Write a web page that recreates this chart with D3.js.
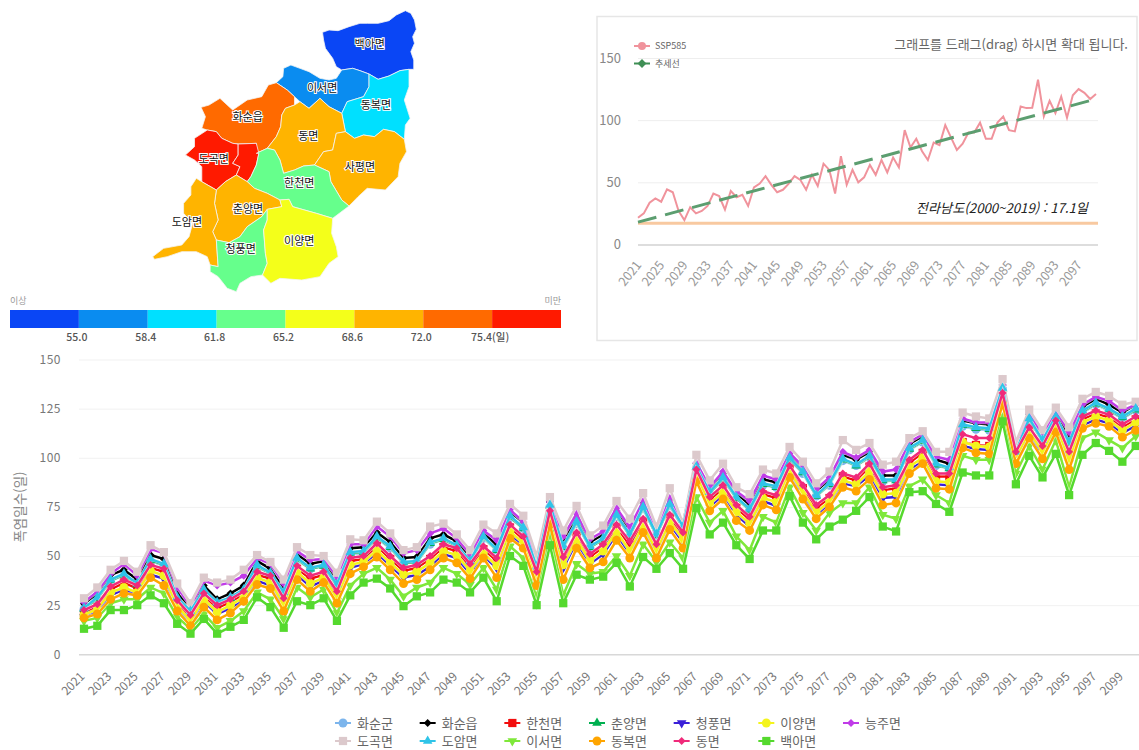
<!DOCTYPE html>
<html lang="ko">
<head>
<meta charset="utf-8">
<title>화순군 폭염일수</title>
<script src="https://cdn.jsdelivr.net/npm/d3@7/dist/d3.min.js"></script>
<style>
  html, body { margin: 0; padding: 0; background: #fff; overflow: hidden; }
  svg { display: block; font-family: "Noto Sans CJK KR", "Noto Sans", sans-serif; }
</style>
</head>
<body>
<svg id="chart" width="1139" height="750"></svg>
<script>
// 연도
const years = d3.range(2021, 2101)

// 읍면별 폭염일수
const hwasunGun = [
  23,28,37.5,40,35.5,47.5,45,28.5,21.5,32,
  26,28.5,32.5,44.5,41,31,48,43.5,45,34.5,
  51,51.5,59,54,46.5,47,56,58.5,55,47,
  59,53,69.5,64,44,75,54,66.5,54.5,58.5,
  70,60.5,74,60.5,75.5,64,95,82,89,79.5,
  73.5,86,85,99,92,80.5,86,98.5,96,100,
  88,88.5,104,108,96,94.5,116,114.5,114,135,
  102.5,119,108.5,120,107,123,127,124,120,124]
const hwasunEup = [
  25.7,31,40.5,43,38,50.5,48.5,31,24,35,
  28,31,35,47.5,43.5,33.5,51,46,47.5,37,
  54,54.5,62,57,49,49.5,59,61,57.5,49.5,
  62,55.5,72.5,67,46,77.5,57,69.5,57,61,
  73,63,77,63,78.5,67,97,84.5,92,82,
  76,89,87.5,102,95,83,89,101.5,99,103,
  91,91,107,111,99,97,119,117.5,117,137,
  105,122,111,123,110,126,130,127,123,127]
const hancheon = [
  21,24,33,36.5,33.5,44,42,26,18.5,29.5,
  23.5,26.5,30.5,40.5,38.5,27,43.5,38.5,40.5,30.5,
  47.5,48.5,55,48.5,42.5,44,48.5,54.5,52.5,44.5,
  53.5,47.5,64.5,58.5,40,71,47.5,60.5,49.5,54.5,
  64.5,55.5,67.5,54.5,69.5,60,92.5,78.5,84.5,74.5,
  68.5,81.5,79.5,94.5,84.5,74.5,79.5,90.5,88.5,95.5,
  83.5,84.5,97.5,102.5,90.5,90.5,108,106.5,106,131.5,
  101.5,114,104.5,117.5,101,119.5,122.5,120.5,115.5,119.5]
const chunyang = [
  23,28.5,37.5,40.5,35.5,48,45.5,28.5,21.5,32.5,
  26,28.5,32.5,45,41,31,48.5,43.5,45,35,
  51.5,52,59.5,54.5,46.5,47,56.5,58.5,55,47,
  59.5,53,70,64,44,75.5,54.5,67,54.5,58.5,
  70.5,60.5,74.5,60.5,76,64.5,95,82,89.5,79.5,
  73.5,86.5,85,99.5,92.5,80.5,86.5,99,96,100.5,
  88.5,88.5,104.5,108.5,96.5,94.5,116.5,115,114.5,135,
  102.5,119.5,108.5,120.5,107.5,123.5,127.5,124.5,120.5,124.5]
const cheongpung = [
  19,22,30,33,30,40.5,38.5,23.5,16,27,
  20.5,23.5,27.5,37.5,35,24,40.5,34.5,37.5,27,
  44,46,51.5,45,39,40.5,44.5,51,49,41,
  50,44,61,55,37,67,44,57,46,51,
  61,51,64,51,66,57,89.5,75,81,71,
  65,78,75.5,91.5,81,70.5,76.5,87,85.5,91,
  79.5,80,94,98,86.5,86,106,104.5,104,129,
  99,111.5,101.5,114.5,97.5,116.5,119.5,117.5,112.5,116.5]
const iyang = [
  20,23,31.5,34,31.5,42.5,40,24.5,17,28,
  21.5,25,29,39,36.5,25.5,42,36,39,28.5,
  45.5,47,53,46.5,40.5,42,46.5,52.5,50.5,42.5,
  51.5,45,62.5,56.5,38.5,68.5,45.5,58.5,47.5,52.5,
  62.5,52.5,65.5,52.5,67.5,58.5,91,76.5,82.5,72.5,
  66.5,79.5,77.5,93,82.5,72,78,88.5,86.5,93,
  81.5,82,95.5,100,88,87.5,108,106,105.5,130,
  100,113,103,116,99,118,121,119,114,118]
const neungju = [
  26.5,32,41,46,40,53.5,51.5,34,24.5,37.5,
  35,36.5,40,49,46,36,52.5,48,48.5,39.5,
  56,56,65,60,51.5,53,61.5,64,59,51,
  63,58,73.5,67.5,47,77.5,60,71.5,58.5,62.5,
  74.5,64.5,78,62.5,79.5,65,97.5,85,93,83,
  78,91,89,102.5,95.5,84,90,103,100,104,
  93,94,108,112,100.5,99,120,118,118,137,
  106,122.5,112,124,113,127,131,129,124,127]
const dogok = [
  28.5,34,43,47.5,42,55.5,52,36,26,39,
  36.5,38,43,50.5,47,38,54.5,50.5,50,41.5,
  58.5,58,67.5,61.5,53,54.5,65,66.5,61,53,
  66,61.5,76.5,70.5,50,80,63,75.5,60.5,65.5,
  78,69,82,65,84.5,66.5,101.5,88.5,97,85,
  81.5,94,92,105.5,98,87,93,109,104,107.5,
  96.5,98,110,113.5,103,103,123,121,120,140,
  108,124.5,114,125.5,115.5,130,133.5,131.5,127,128.5]
const doam = [
  23.5,29,38,41,36,48.5,46,29,22,33,
  26.5,29,33,45.5,41.5,31.5,49,44,45.5,35.5,
  52,52.5,60,55,47,47.5,57,59,55.5,47.5,
  60,53.5,70.5,64.5,44.5,76,55,67.5,55,59,
  71,61,75,61,76.5,65,95.5,82.5,90,80,
  74,87,85.5,100,93,81,87,99.5,96.5,101,
  89,89,105,109,97,95,117,115.5,115,135.5,
  103,120,109,121,108,124,128,125,121,125]
const iseo = [
  17,18.5,26,28,28,34,31,19,13,20.5,
  13.5,17,22,31.5,28,18,34,29,33,21,
  35,41,44,38,29.5,34,36.5,44,41,35.5,
  44,33,55,49,29,62,30,46,41,42,
  50,40,56,47,57,49,80,67,73,60,
  53,70,67,85,72,63,72,77,77,85,
  71,69,85.5,89,81,77,101,99,99,121,
  92,106,94,109,85,110,113,109,105,111]
const dongbok = [
  18.5,20.5,28,31,30,39,35,22,14.5,24,
  17.5,21,27,35.5,33.5,22,38,32,36.5,26,
  41,44.5,49.5,43,36,38,43,49,46.5,38.5,
  49,39,59,54,35,66,38,54,44,47,
  58,49,62,49,63.5,54,88,73,79,68,
  63,76,73.5,90,79,69,75,85,83,89,
  76,77,92,97,84.5,84,105,102.5,102,127.5,
  97,110,99.5,113,94,115,117.5,116,110.5,114]
const dongmyeon = [
  22.5,25.5,34.5,38,35,45.5,43.5,27.5,20,31,
  25,28,32,42,40,28.5,45,40,42,32,
  49,50,56.5,50,44,45.5,50,56,54,46,
  55,49,66,60,42,73,49.5,62,51,56,
  66,57.5,69,56,71,62,94,80,86,76,
  70,83,81,96,86,76,81,92,90,97,
  85,86,99,104,92,92,112,110,110,133,
  103,115.5,106,119,103,121,124,122,117,121]
const baega = [
  13,14.5,22.5,22.5,25,30,26,15.5,10.5,18,
  10.5,14,17.5,29,24,13.5,27,25,28.5,17,
  30,36.5,38.5,33.5,24.5,29.5,31.5,38,36.5,31.5,
  39,27,50,45,25,55.5,26,40.5,38,39.5,
  46.5,34.5,49.5,43.5,51.5,43.5,74.5,61,67,55.5,
  48.5,63,63,80.5,67,58.5,65,68.5,73,80,
  65,62.5,82.5,83,76.5,72.5,92.5,91,91,118.5,
  86.5,101,90,102,81,101.5,107.5,103.5,98,106]

const seriesNames = ['화순군','화순읍','한천면','춘양면','청풍면','이양면','능주면','도곡면','도암면','이서면','동복면','동면','백아면']
const seriesValues = [hwasunGun,hwasunEup,hancheon,chunyang,cheongpung,iyang,neungju,dogok,doam,iseo,dongbok,dongmyeon,baega]
const seriesColors = ['#7cb5ec','#000000','#f20d0d','#00b050','#3a1fd8','#f4f41c','#c03be8','#dcc9cc','#2fc4e8','#7fe83a','#ffa500','#f02a7a','#55d92e']
const seriesMarkers = ['circle','diamond','square','triangle','triangleDown','circle','diamond','square','triangle','triangleDown','circle','diamond','square']

// 우측 상단 그래프 (화순군 SSP585, 추세선)
const ssp585 = [
  21.5,25,33.6,37,34.4,44.4,42,27,19.6,30,
  25,27,31,41,39,28,43,38,40,31,
  46,49,55,48,42,44,49,55,52,44,
  56,47,65,60,41,71,48,60,50,54,
  64,56,68,58,70,62,92,78,85,75,
  68,82,80,96,86,76,81,90,90,98,
  85,85,98,103,92,91,111,109.7,110,132.5,
  103,115.6,105.6,119,102,120,125,122,117,121]
const trendYears = [2021, 2100]
const trendValues = [18, 117]
const jeonnamAvg = 17.1

// 지도 범례
const legendBreaks = [55.0, 58.4, 61.8, 65.2, 68.6, 72.0, 75.4]
const legendColors = ['#0a46f5','#0a8cf0','#00e0ff','#66ff8c','#f4ff1a','#ffb400','#ff6a00','#ff1a00']

// 읍면 경계 (지도 좌표)
const regionNames = ['백아면','이서면','동복면','화순읍','도곡면','능주면','동면','사평면','한천면','춘양면','도암면','청풍면','이양면']
const regionDays = [53, 57, 60, 74, 77, 76, 70, 70, 64, 71, 70, 64, 67]
const regionOutlines = [
  [[887,97],[905,90],[930,92],[960,80],[990,70],[1010,70],[1040,70],[1070,62],[1090,45],[1115,32],[1130,40],[1140,60],[1145,88],[1135,110],[1140,130],[1130,155],[1138,180],[1138,208],[1125,208],[1100,212],[1070,228],[1040,238],[1015,222],[990,212],[970,205],[940,210],[925,200],[915,175],[895,145],[890,120]],
  [[760,248],[778,230],[780,205],[800,195],[825,205],[850,215],[880,235],[905,240],[925,235],[940,210],[970,205],[990,212],[1015,222],[1015,260],[1000,290],[955,305],[940,340],[905,320],[880,295],[850,325],[825,305],[810,290],[790,270]],
  [[1015,222],[1040,238],[1070,228],[1100,212],[1125,208],[1125,260],[1112,300],[1128,355],[1115,375],[1112,418],[1085,395],[1055,388],[1030,410],[1000,405],[975,415],[950,395],[940,340],[955,305],[1000,290],[1015,260]],
  [[553,322],[575,315],[605,295],[630,320],[640,330],[680,300],[720,290],[738,255],[760,248],[790,270],[810,290],[810,315],[785,325],[775,345],[772,380],[760,410],[735,445],[705,460],[705,430],[655,432],[640,430],[610,415],[595,395],[570,390],[555,385],[565,350]],
  [[510,465],[535,440],[535,415],[570,390],[595,395],[610,415],[640,430],[655,432],[655,465],[640,490],[660,500],[650,525],[620,545],[595,570],[555,545],[555,500],[535,480]],
  [[655,432],[705,430],[712,460],[705,495],[690,530],[680,545],[650,525],[660,500],[640,490],[655,465]],
  [[775,345],[785,325],[810,315],[825,305],[850,325],[880,295],[905,320],[940,340],[950,395],[925,400],[915,450],[890,455],[865,495],[835,498],[810,510],[780,520],[770,480],[755,450],[735,445],[760,410],[772,380]],
  [[925,400],[950,395],[975,415],[1000,405],[1030,410],[1055,388],[1085,395],[1112,418],[1118,455],[1100,490],[1095,530],[1060,570],[1010,565],[985,590],[960,618],[940,600],[910,545],[905,515],[865,495],[890,455],[915,450]],
  [[735,445],[755,450],[770,480],[780,520],[810,510],[835,498],[865,495],[905,515],[910,545],[940,600],[960,618],[915,655],[870,640],[805,620],[795,598],[770,600],[735,580],[700,565],[680,545],[690,530],[705,495],[712,460],[705,460]],
  [[595,570],[620,545],[650,525],[680,545],[700,565],[735,580],[770,600],[775,620],[735,628],[720,650],[680,680],[660,710],[630,728],[595,720],[585,695],[600,660],[590,610]],
  [[525,560],[540,535],[555,545],[595,570],[590,610],[600,660],[585,695],[595,720],[600,800],[578,795],[570,770],[540,755],[500,755],[460,770],[425,778],[420,770],[450,745],[500,735],[520,710],[530,670],[505,640],[505,610],[525,585]],
  [[630,728],[660,710],[680,680],[720,650],[735,628],[735,660],[725,690],[730,760],[735,790],[722,825],[690,830],[660,850],[650,875],[625,865],[600,830],[578,815],[578,795],[600,800],[595,720]],
  [[735,628],[775,620],[770,600],[795,598],[805,620],[870,640],[915,655],[912,700],[925,740],[930,770],[905,790],[880,830],[830,840],[770,835],[745,850],[722,825],[735,790],[730,760],[725,690],[735,660]]
]
// 능주면은 지도에 이름이 없음
const mapLabels = ['백아면','이서면','동복면','화순읍','도곡면','동면','사평면','한천면','춘양면','도암면','청풍면','이양면']
const mapLabelAnchors = [[1017,132],[886,264],[1034,315],[681,351],[588,477],[848,408],[990,502],[823,550],[682,627],[514,666],[662,748],[823,722]]

const svg = d3.select('#chart')
const fontColor = '#777'

// ---------- 지도 ----------
const mapX = d3.scaleLinear().domain([0, 1543]).range([0, 561])
const mapY = d3.scaleLinear().domain([0, 1050]).range([0, 350])
const mapColor = d3.scaleThreshold().domain(legendBreaks).range(legendColors)
const outline = d3.line().x(d => mapX(d[0])).y(d => mapY(d[1])).curve(d3.curveLinearClosed)

svg.append('g').selectAll('path')
  .data(regionOutlines)
  .join('path')
  .attr('d', outline)
  .attr('fill', (d, i) => mapColor(regionDays[i]))
  .attr('stroke', '#f4f4f4')
  .attr('stroke-width', 0.8)
  .attr('stroke-linejoin', 'round')

svg.append('g').selectAll('text')
  .data(mapLabels)
  .join('text')
  .attr('x', (d, i) => mapX(mapLabelAnchors[i][0]))
  .attr('y', (d, i) => mapY(mapLabelAnchors[i][1]))
  .attr('text-anchor', 'middle')
  .attr('dy', '.35em')
  .attr('font-size', 11)
  .attr('fill', '#111')
  .attr('stroke', '#fff')
  .attr('stroke-width', 2)
  .attr('paint-order', 'stroke')
  .text(d => d)

// 범례 막대
const legendX = d3.scaleLinear().domain([0, legendColors.length]).range([10, 561])
svg.append('g').selectAll('rect')
  .data(legendColors)
  .join('rect')
  .attr('x', (d, i) => legendX(i))
  .attr('y', 310)
  .attr('width', (d, i) => legendX(i + 1) - legendX(i))
  .attr('height', 18)
  .attr('fill', d => d)

svg.append('g').selectAll('text')
  .data(legendBreaks)
  .join('text')
  .attr('x', (d, i) => legendX(i + 1) - 2)
  .attr('y', 341)
  .attr('text-anchor', 'middle')
  .attr('font-size', 10.5)
  .attr('font-weight', 500)
  .attr('fill', '#555')
  .text((d, i) => d.toFixed(1) + (i === legendBreaks.length - 1 ? '(일)' : ''))

svg.append('text').attr('x', 10).attr('y', 304).attr('font-size', 9).attr('fill', '#999').text('이상')
svg.append('text').attr('x', 561).attr('y', 304).attr('font-size', 9).attr('fill', '#999').attr('text-anchor', 'end').text('미만')

// ---------- 우측 상단 그래프 ----------
svg.append('rect')
  .attr('x', 597).attr('y', 16.5)
  .attr('width', 540).attr('height', 324)
  .attr('fill', '#fff')
  .attr('stroke', '#e6e6e6')
  .attr('stroke-width', 1.5)

const topX = d3.scalePoint().domain(years).range([638, 1096])
const topY = d3.scaleLinear().domain([0, 150]).range([244.5, 58])

const topGrid = svg.append('g')
  .attr('transform', 'translate(638,0)')
  .call(d3.axisLeft(topY).tickValues([0, 50, 100, 150]).tickSize(-460).tickPadding(17).tickFormat(d3.format('d')))
topGrid.select('.domain').remove()
topGrid.selectAll('line').attr('stroke', d => d === 0 ? '#ddd' : '#eee').attr('stroke-width', d => d === 0 ? 2 : 1)
topGrid.selectAll('text').attr('font-size', 13).attr('fill', '#888').attr('font-family', '"Noto Sans CJK KR"')

const topAxis = svg.append('g')
  .attr('transform', 'translate(0,244.5)')
  .call(d3.axisBottom(topX).tickValues(years.filter((d, i) => i % 4 === 0)).tickSize(0).tickFormat(d3.format('d')))
topAxis.select('.domain').remove()
topAxis.selectAll('text')
  .attr('x', 0).attr('y', 0).attr('dy', '.35em')
  .attr('text-anchor', 'end')
  .attr('transform', 'translate(0,18) rotate(-52)')
  .attr('font-size', 12.5)
  .attr('fill', '#999')
  .attr('font-family', '"Noto Sans CJK KR"')

svg.append('line')
  .attr('x1', 638).attr('x2', 1098)
  .attr('y1', topY(jeonnamAvg)).attr('y2', topY(jeonnamAvg))
  .attr('stroke', '#f8c9a0').attr('stroke-width', 3)

svg.append('path')
  .attr('d', d3.line().x((d, i) => topX(years[i])).y(d => topY(d))(ssp585))
  .attr('fill', 'none')
  .attr('stroke', '#f0939c')
  .attr('stroke-width', 2)

svg.append('path')
  .attr('d', d3.line().x((d, i) => topX(trendYears[i])).y(d => topY(d))(trendValues))
  .attr('fill', 'none')
  .attr('stroke', '#5c9e70')
  .attr('stroke-width', 3)
  .attr('stroke-dasharray', '19 9')

svg.append('text')
  .attr('x', 1128).attr('y', 49)
  .attr('text-anchor', 'end')
  .attr('font-size', 13)
  .attr('fill', '#666')
  .text('그래프를 드래그(drag) 하시면 확대 됩니다.')

svg.append('text')
  .attr('x', 1088).attr('y', 213)
  .attr('text-anchor', 'end')
  .attr('font-size', 13.2)
  .attr('font-style', 'italic')
  .attr('fill', '#222')
  .text('전라남도(2000~2019) : 17.1일')

// 상단 범례
const topLegend = [['SSP585', '#f0939c', 'circle', 46], ['추세선', '#3f8f55', 'diamond', 63.5]]
const symbolOf = {
  circle: d3.symbolCircle, diamond: d3.symbolDiamond2, square: d3.symbolSquare,
  triangle: d3.symbolTriangle, triangleDown: d3.symbolTriangle
}
topLegend.forEach(d => {
  svg.append('line').attr('x1', 634).attr('x2', 650).attr('y1', d[3]).attr('y2', d[3]).attr('stroke', d[1]).attr('stroke-width', 2)
  svg.append('path').attr('d', d3.symbol().type(symbolOf[d[2]]).size(50)()).attr('transform', `translate(642,${d[3]})`).attr('fill', d[1])
  svg.append('text').attr('x', 655).attr('y', d[3]).attr('dy', '.35em').attr('font-size', 9).attr('fill', '#666').text(d[0])
})

// ---------- 하단 그래프 ----------
const x = d3.scalePoint().domain(years).range([84, 1135.7])
const y = d3.scaleLinear().domain([0, 150]).range([654.3, 359.5])

const grid = svg.append('g')
  .attr('transform', 'translate(79,0)')
  .call(d3.axisLeft(y).tickValues([0, 25, 50, 75, 100, 125, 150]).tickSize(-1060).tickPadding(18).tickFormat(d3.format('d')))
grid.select('.domain').remove()
grid.selectAll('line').attr('stroke', d => d === 0 ? '#d8d8d8' : '#f1f1f1').attr('stroke-width', d => d === 0 ? 1.5 : 1)
grid.selectAll('text').attr('font-size', 12).attr('fill', fontColor).attr('letter-spacing', 0.5).attr('font-family', '"Noto Sans CJK KR"')

const xAxis = svg.append('g')
  .attr('transform', 'translate(0,654.3)')
  .call(d3.axisBottom(x).tickValues(years.filter((d, i) => i % 2 === 0)).tickSize(0).tickFormat(d3.format('d')))
xAxis.select('.domain').remove()
xAxis.selectAll('text')
  .attr('x', 0).attr('y', 0).attr('dy', '.35em')
  .attr('text-anchor', 'end')
  .attr('transform', 'translate(-2,20) rotate(-45)')
  .attr('font-size', 12)
  .attr('fill', fontColor)
  .attr('font-family', '"Noto Sans CJK KR"')

svg.append('text')
  .attr('transform', 'translate(20,507) rotate(-90)')
  .attr('text-anchor', 'middle')
  .attr('dy', '.35em')
  .attr('font-size', 13.5)
  .attr('fill', '#888')
  .text('폭염일수(일)')

// 선과 마커 (범례 순서대로 쌓음)
const line = d3.line().x((d, i) => x(years[i])).y(d => y(d))
const markerPath = name => d3.symbol().type(symbolOf[name]).size(name === 'square' ? 68 : name === 'circle' ? 62 : 40)()
const markerTurn = name => name === 'triangleDown' ? ' rotate(180)' : ''

seriesValues.forEach((values, k) => {
  const g = svg.append('g')
  g.append('path')
    .attr('d', line(values))
    .attr('fill', 'none')
    .attr('stroke', '#fff')
    .attr('stroke-opacity', 0.7)
    .attr('stroke-width', 3.5)
  g.append('path')
    .attr('d', line(values))
    .attr('fill', 'none')
    .attr('stroke', seriesColors[k])
    .attr('stroke-width', 2.5)
  g.selectAll('path.mark')
    .data(values)
    .join('path')
    .attr('class', 'mark')
    .attr('d', markerPath(seriesMarkers[k]))
    .attr('transform', (d, i) => `translate(${x(years[i])},${y(d)})${markerTurn(seriesMarkers[k])}`)
    .attr('fill', seriesColors[k])
})

// 하단 범례
const legendCol = d3.scaleLinear().domain([0, 6]).range([343, 851])
const legendRow = [723, 741]
const legend = svg.append('g').selectAll('g')
  .data(seriesNames)
  .join('g')
  .attr('transform', (d, i) => `translate(${legendCol(i % 7)},${legendRow[i < 7 ? 0 : 1]})`)
legend.append('line')
  .attr('x1', -8).attr('x2', 8)
  .attr('stroke', (d, i) => seriesColors[i])
  .attr('stroke-width', 2)
legend.append('path')
  .attr('d', (d, i) => markerPath(seriesMarkers[i]))
  .attr('transform', (d, i) => markerTurn(seriesMarkers[i]).trim())
  .attr('fill', (d, i) => seriesColors[i])
legend.append('text')
  .attr('x', 14)
  .attr('dy', '.35em')
  .attr('font-size', 13)
  .attr('fill', '#666')
  .text(d => d)
</script>
</body>
</html>
